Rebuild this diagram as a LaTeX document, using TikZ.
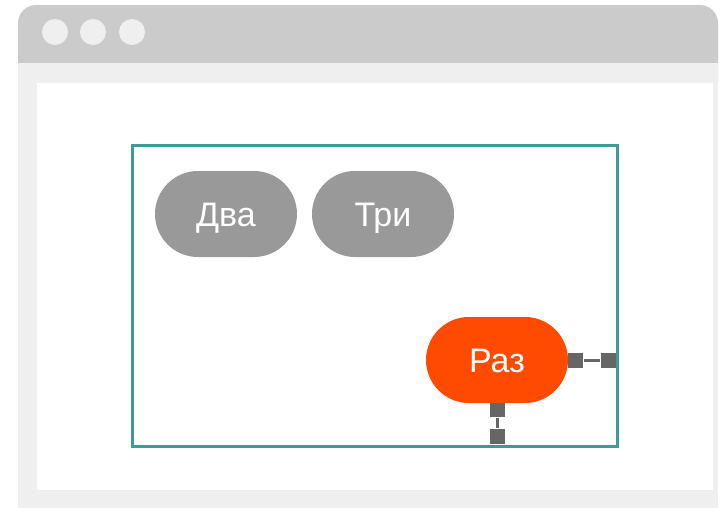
\documentclass[tikz,border=0pt]{standalone}
\usepackage{fontspec}
\setmainfont{Liberation Sans}
\usepackage{tikz}

\definecolor{bar}{HTML}{CBCBCB}
\definecolor{frame}{HTML}{EFEFEF}
\definecolor{boxteal}{HTML}{3D9B95}
\definecolor{pillgray}{HTML}{999999}
\definecolor{pillred}{HTML}{FF4B00}
\definecolor{gripgray}{HTML}{666666}

\begin{document}
\begin{tikzpicture}[x=1pt,y=-1pt,
  pill/.style={rectangle,rounded corners=43pt,minimum width=142pt,minimum height=86pt,
    text=white,font=\fontsize{34}{36}\selectfont,text height=24pt,text depth=0pt},
  grip/.style={rectangle,fill=gripgray,minimum width=15pt,minimum height=15pt,inner sep=0pt}]
\useasboundingbox (0,0) rectangle (720,509);

% window
\fill [bar,rounded corners=18pt] (18,5) rectangle (718,100);
\fill [frame] (18,63) rectangle (718,508);
\fill [white] (37,83) rectangle (713,490);
\fill [frame] (55,32) circle (13);
\fill [frame] (93,32) circle (13);
\fill [frame] (132,32) circle (13);

\draw [boxteal,line width=3pt] (132,145) rectangle (617,446);

\node [pill,fill=pillgray] (dva) at (226,214) {Два};
\node [pill,fill=pillgray] (tri) at (383,214) {Три};
\node [pill,fill=pillred] (raz) at (497,360) {Раз};

\node [grip,anchor=west] (rgrip) at (raz.east) {};
\node [grip] (redge) at (608,360) {};
\node [grip,anchor=north,minimum height=14pt] (bgrip) at (raz.south) {};
\node [grip] (bedge) at (497,436) {};
\draw [gripgray,line width=3pt] (rgrip) -- (redge);
\draw [gripgray,line width=3pt] (bgrip) -- (bedge);
\end{tikzpicture}
\end{document}
